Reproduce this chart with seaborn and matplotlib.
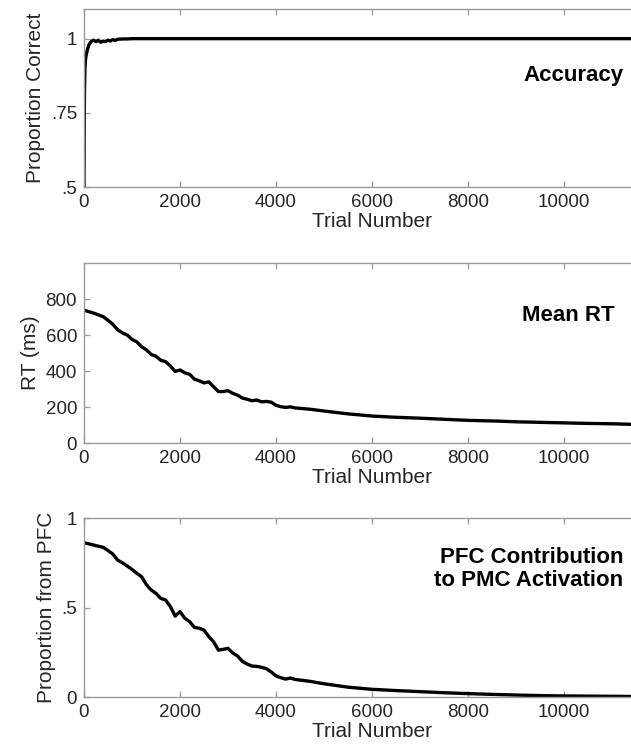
import numpy as np
import pandas as pd
import matplotlib
matplotlib.use("Agg")
import matplotlib.pyplot as plt
import seaborn as sns

# accuracy curve (trial, proportion correct)
acc_trial = [0, 5, 10, 20, 30, 40, 60, 80, 100, 130, 160, 200, 250, 300, 350, 400,
             450, 500, 550, 600, 650, 700, 800, 900, 1000, 2000, 6000, 12000]
acc_value = [0.5, 0.70, 0.82, 0.90, 0.925, 0.94, 0.955, 0.968, 0.978, 0.986, 0.992,
             0.995, 0.99, 0.995, 0.988, 0.992, 0.99, 0.995, 0.992, 0.997, 0.994,
             0.998, 0.999, 0.999, 1.0, 1.0, 1.0, 1.0]

# mean RT curve (ms)
rt_trial = [0, 200, 400, 500, 600, 700, 800, 900, 1000, 1100, 1200, 1300, 1400, 1500,
            1600, 1700, 1800, 1900, 2000, 2100, 2200, 2300, 2400, 2500, 2600, 2700,
            2800, 2900, 3000, 3100, 3200, 3300, 3400, 3500, 3600, 3700, 3800, 3900,
            4000, 4100, 4200, 4300, 4400, 4700, 5000, 5500, 6000, 6500, 7000, 7500,
            8000, 8600, 9000, 9500, 10000, 10500, 11000, 11400, 12000]
rt_value = [738, 722, 702, 682, 660, 630, 612, 600, 576, 562, 535, 518, 492, 482,
            460, 452, 428, 398, 406, 390, 382, 355, 346, 334, 340, 313, 286, 286,
            291, 276, 266, 250, 243, 235, 239, 229, 231, 227, 210, 202, 198, 201,
            195, 188, 178, 162, 150, 143, 138, 132, 126, 122, 118, 115, 112, 109,
            107, 104, 101]

# PFC contribution to PMC activation
pfc_trial = rt_trial
pfc_value = [0.862, 0.849, 0.836, 0.818, 0.799, 0.765, 0.750, 0.732, 0.713, 0.691,
             0.672, 0.628, 0.598, 0.579, 0.551, 0.542, 0.505, 0.452, 0.477, 0.440,
             0.421, 0.389, 0.384, 0.374, 0.337, 0.309, 0.262, 0.266, 0.272, 0.246,
             0.229, 0.199, 0.184, 0.173, 0.171, 0.166, 0.158, 0.140, 0.118, 0.108,
             0.100, 0.106, 0.098, 0.088, 0.074, 0.055, 0.043, 0.036, 0.030, 0.024,
             0.019, 0.014, 0.011, 0.008, 0.006, 0.005, 0.004, 0.003, 0.002]

x_ticks = [0, 2000, 4000, 6000, 8000, 10000]
x_ticklabels = ["0", "2000", "4000", "6000", "8000", "10000"]

panels = [
    dict(x=acc_trial, y=acc_value, ylabel="Proportion Correct", title="Accuracy",
         ylim=(0.5, 1.1), yticks=[0.5, 0.75, 1.0], yticklabels=[".5", ".75", "1"],
         pos=[0.1331, 0.7503, 0.9128, 0.2377], tx=0.9375, ty=0.624),
    dict(x=rt_trial, y=rt_value, ylabel="RT (ms)", title="Mean RT",
         ylim=(0, 1000), yticks=[0, 200, 400, 600, 800],
         yticklabels=["0", "200", "400", "600", "800"],
         pos=[0.1331, 0.4085, 0.9128, 0.2403], tx=0.922, ty=0.706),
    dict(x=pfc_trial, y=pfc_value, ylabel="Proportion from PFC",
         title="PFC Contribution\nto PMC Activation",
         ylim=(0, 1), yticks=[0, 0.5, 1.0], yticklabels=["0", ".5", "1"],
         pos=[0.1331, 0.0694, 0.9128, 0.2390], tx=0.936, ty=0.715),
]

sns.set_style("white")
plt.rcParams["font.family"] = ["Liberation Sans", "DejaVu Sans"]

fig = plt.figure(figsize=(6.31, 7.49), dpi=100)
spine_col = "#9a9a9a"
text_col = "#262626"

for p in panels:
    ax = fig.add_axes(p["pos"])
    df = pd.DataFrame({"trial": p["x"], "value": p["y"]})
    sns.lineplot(data=df, x="trial", y="value", ax=ax, color="black", lw=2.4,
                 estimator=None)
    ax.set_xlim(0, 12000)
    ax.set_ylim(*p["ylim"])
    ax.set_xticks(x_ticks)
    ax.set_xticklabels(x_ticklabels)
    ax.set_yticks(p["yticks"])
    ax.set_yticklabels(p["yticklabels"])
    ax.tick_params(direction="in", length=4, width=0.9, color=spine_col,
                   labelsize=13.5, labelcolor=text_col, pad=5,
                   top=True, bottom=True, left=True, right=False)
    for side in ["left", "top", "bottom"]:
        ax.spines[side].set_visible(True)
        ax.spines[side].set_color(spine_col)
        ax.spines[side].set_linewidth(1.0)
    ax.spines["right"].set_visible(False)
    ax.set_xlabel("Trial Number", fontsize=15, color=text_col, labelpad=1)
    ax.set_ylabel(p["ylabel"], fontsize=15, color=text_col, labelpad=4)
    ax.text(p["tx"], p["ty"], p["title"], transform=ax.transAxes, ha="right",
            va="center", multialignment="right", fontsize=16, fontweight="bold",
            color="black", linespacing=1.15)

fig.savefig("out.png", dpi=100)
